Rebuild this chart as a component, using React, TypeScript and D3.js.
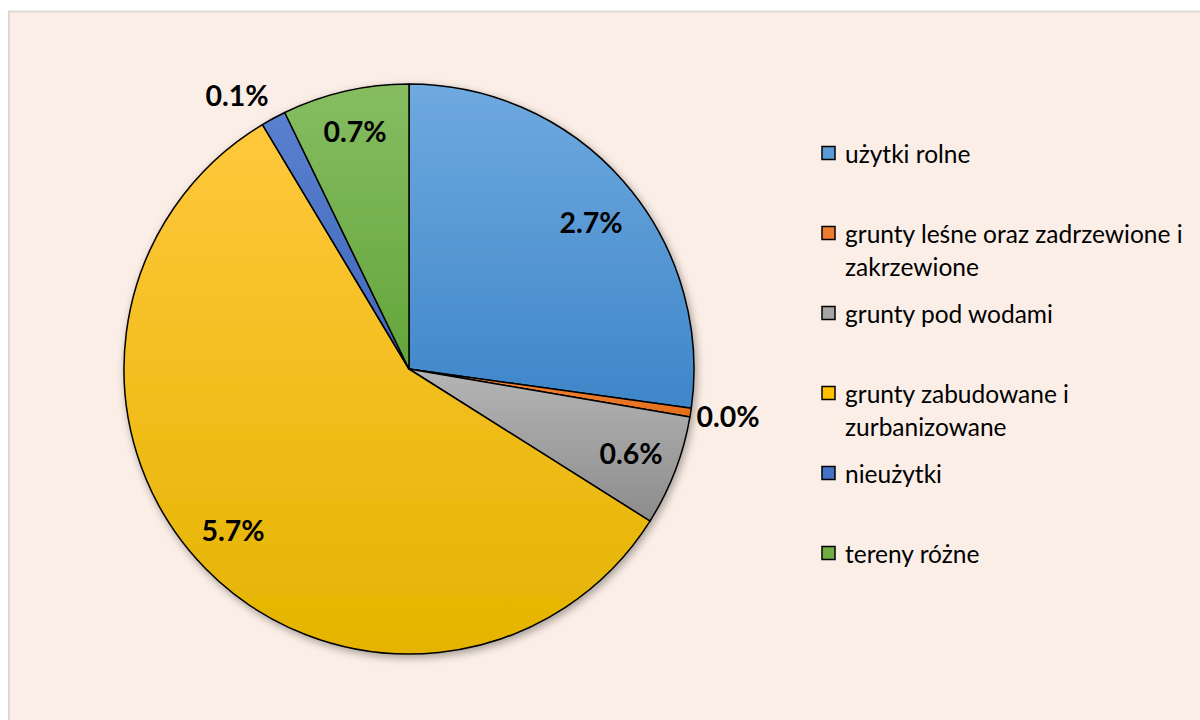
import React from "react";
import * as d3 from "d3";

const categories = [
  "użytki rolne",
  "grunty leśne oraz zadrzewione i zakrzewione",
  "grunty pod wodami",
  "grunty zabudowane i zurbanizowane",
  "nieużytki",
  "tereny różne",
];
const values = [2.69, 0.048, 0.62, 5.68, 0.14, 0.71];
const topColors = ["#6fa9df", "#f58a3c", "#b5b5b5", "#ffc83c", "#5a80cf", "#86bd62"];
const bottomColors = ["#3e86c9", "#e46d1a", "#8c8c8c", "#e4b400", "#3f67ba", "#64a53a"];
const legendColors = ["#5b9bd5", "#ed7d31", "#a5a5a5", "#ffc000", "#4472c4", "#70ad47"];
const labelPos = [
  [591, 222],
  [728, 416],
  [631, 453],
  [233, 530],
  [237, 95],
  [355, 131],
];

function wrap(text: string, maxChars: number): string[] {
  const words = text.split(" ");
  const lines: string[] = [];
  let cur = "";
  for (const w of words) {
    const next = cur ? cur + " " + w : w;
    if (next.length > maxChars && cur) {
      lines.push(cur);
      cur = w;
    } else cur = next;
  }
  if (cur) lines.push(cur);
  return lines;
}

export default function App() {
  const cx = 409;
  const cy = 369;
  const r = 285;
  const pie = d3.pie<number>().sort(null).value((d) => d);
  const arcs = pie(values);
  const arc = d3.arc<d3.PieArcDatum<number>>().innerRadius(0).outerRadius(r);
  const font = "Lato, 'Open Sans', sans-serif";
  const legendY = d3.scalePoint<number>().domain(d3.range(categories.length)).range([153, 553]);

  return (
    <svg
      width={1200}
      height={720}
      style={{ position: "absolute", left: 0, top: 0, display: "block" }}
    >
      <defs>
        {values.map((_, i) => (
          <linearGradient key={i} id={`g${i}`} x1="0" y1="0" x2="0" y2="1">
            <stop offset="0%" stopColor={topColors[i]} />
            <stop offset="100%" stopColor={bottomColors[i]} />
          </linearGradient>
        ))}
        <filter id="shadow" x="-10%" y="-10%" width="120%" height="120%">
          <feGaussianBlur in="SourceAlpha" stdDeviation="4" />
          <feOffset dx="2" dy="3" result="b" />
          <feComponentTransfer>
            <feFuncA type="linear" slope="0.35" />
          </feComponentTransfer>
          <feMerge>
            <feMergeNode />
            <feMergeNode in="SourceGraphic" />
          </feMerge>
        </filter>
      </defs>
      <rect x={9} y={11.5} width={1200} height={720} fill="#fbeee6" stroke="#d9d9d9" strokeWidth={2} />
      <g transform={`translate(${cx},${cy})`} filter="url(#shadow)">
        {arcs.map((a, i) => (
          <path key={i} d={arc(a) || ""} fill={`url(#g${i})`} stroke="#000" strokeWidth={1.5} strokeLinejoin="round" />
        ))}
      </g>
      {arcs.map((a, i) => (
        <text
          key={i}
          x={labelPos[i][0]}
          y={labelPos[i][1]}
          textAnchor="middle"
          dominantBaseline="central"
          fontFamily={font}
          fontWeight="bold"
          fontSize={28.5}
          fill="#000"
        >
          {a.data.toFixed(1)}%
        </text>
      ))}
      {categories.map((c, i) => {
        const y = legendY(i) as number;
        const lines = wrap(c, 31);
        return (
          <g key={i}>
            <rect x={822} y={y - 6.5} width={13} height={13} fill={legendColors[i]} stroke="#000" strokeWidth={1.5} />
            {lines.map((l, j) => (
              <text key={j} x={845} y={y + j * 33} dominantBaseline="central" fontFamily={font} fontSize={24.5} fill="#000">
                {l}
              </text>
            ))}
          </g>
        );
      })}
    </svg>
  );
}
